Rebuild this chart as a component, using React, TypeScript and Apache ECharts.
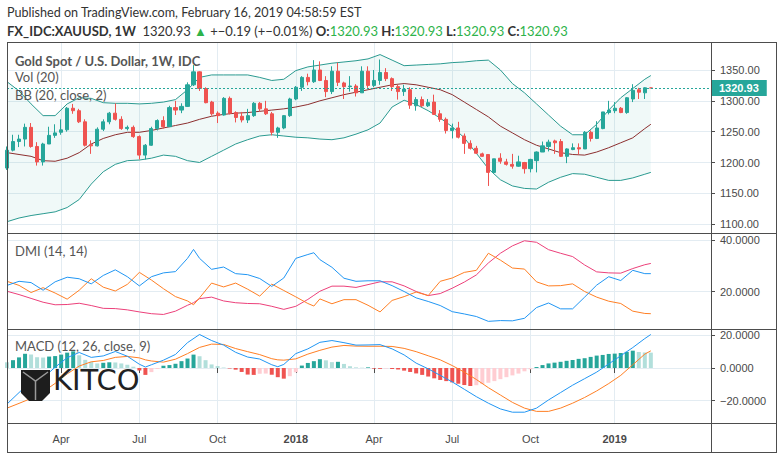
import React, { useEffect, useRef } from 'react';
import * as echarts from 'echarts';

// ---------- categories: weekly bars ----------
const firstWeekUTC = [2017, 0, 30];
const weekCount = 118;
const weeks: string[] = Array.from({ length: weekCount }, (_, i) =>
  new Date(Date.UTC(firstWeekUTC[0], firstWeekUTC[1], firstWeekUTC[2] + 7 * i)).toISOString().slice(0, 10)
);
const tickDates = ['2017-04-03', '2017-07-03', '2017-10-02', '2018-01-01', '2018-04-02', '2018-07-02', '2018-10-01', '2019-01-07'];
const tickTexts = ['Apr', 'Jul', 'Oct', '2018', 'Apr', 'Jul', 'Oct', '2019'];

// ---------- price (weekly OHLC) ----------
const opens = [1191,1220,1234,1238,1257,1226,1201,1230,1244,1249,1253,1288,1284,1266,1229,1227,1254,1266,1280,1270,1255,1257,1242,1212,1228,1255,1268,1258,1289,1285,1291,1326,1347,1320,1298,1280,1277,1304,1281,1275,1269,1276,1296,1287,1279,1249,1256,1276,1303,1322,1338,1331,1350,1333,1315,1348,1329,1323,1324,1313,1348,1325,1333,1346,1336,1323,1315,1318,1292,1302,1292,1298,1279,1270,1252,1256,1243,1231,1223,1214,1213,1184,1207,1201,1197,1194,1200,1190,1203,1217,1226,1235,1234,1210,1221,1224,1222,1249,1239,1255,1281,1284,1288,1281,1303,1318,1313,1320.93];
const closes = [1220,1234,1238,1257,1226,1201,1230,1244,1248,1253,1288,1284,1266,1228,1227,1254,1266,1280,1270,1255,1257,1242,1212,1228,1255,1268,1258,1289,1285,1291,1326,1347,1320,1297,1279,1276,1304,1280,1273,1269,1276,1296,1287,1279,1249,1256,1276,1303,1322,1338,1331,1350,1333,1315,1348,1330,1323,1324,1313,1348,1325,1333,1346,1336,1323,1315,1319,1293,1302,1292,1297,1278,1270,1252,1256,1241,1231,1223,1215,1210,1184,1206,1202,1197,1194,1201,1190,1205,1217,1227,1233,1232,1210,1222,1224,1222,1249,1239,1256,1282,1285,1288,1281,1305,1317,1314,1321.12,1320.93];
const lows = [1188,1218,1225,1226,1224,1195,1195,1230,1240,1245,1250,1279,1264,1226,1214,1226,1251,1262,1268,1253,1252,1240,1205,1205,1227,1252,1255,1258,1277,1280,1290,1324,1316,1296,1276,1264,1276,1278,1265,1265,1264,1274,1283,1277,1244,1240,1254,1274,1301,1316,1325,1329,1332,1306,1311,1324,1303,1315,1307,1313,1321,1322,1326,1332,1316,1302,1308,1287,1284,1290,1290,1277,1266,1247,1239,1239,1214,1221,1214,1209,1162,1183,1198,1195,1190,1193,1182,1184,1184,1217,1218,1214,1209,1199,1220,1213,1222,1234,1238,1254,1278,1280,1280,1279,1298,1303,1303,1320.93];
const highs = [1226,1245,1245,1263,1264,1233,1232,1258,1262,1270,1290,1295,1287,1270,1236,1257,1270,1282,1296,1275,1260,1260,1244,1230,1258,1270,1275,1292,1300,1296,1330,1358,1348,1322,1300,1283,1306,1307,1283,1282,1287,1298,1298,1300,1282,1258,1277,1305,1324,1340,1344,1366,1364,1340,1356,1362,1331,1340,1327,1356,1356,1350,1367,1353,1338,1326,1326,1322,1306,1307,1303,1310,1285,1273,1263,1266,1247,1236,1227,1216,1213,1206,1215,1206,1214,1211,1201,1206,1218,1234,1237,1237,1238,1223,1231,1231,1251,1252,1267,1282,1300,1298,1290,1306,1327,1321,1322,1320.93];
const lastPrice = 1320.93;

// ---------- Bollinger Bands (20, close, 2), read every other week ----------
const bbCats = [0,2,4,6,8,10,12,14,16,18,20,22,24,26,28,30,32,34,36,38,40,42,44,46,48,50,52,54,56,58,60,62,64,66,68,70,72,74,76,78,80,82,84,86,88,90,92,94,96,98,100,102,104,106,107];
const bbUpper = [1331,1316,1295,1276,1276,1295,1305,1304,1297,1296,1296,1295,1296,1298,1302,1318,1338,1342,1342,1342,1342,1338,1333,1335,1349,1355,1358,1361,1363,1365,1368,1375,1366,1357,1358,1359,1360,1362,1363,1365,1366,1350,1328,1313,1295,1277,1259,1245,1245,1262,1285,1305,1320,1335,1341];
const bbBasis = [1216,1213,1210,1203,1202,1207,1216,1230,1239,1245,1249,1249,1252,1256,1260,1264,1270,1275,1278,1280,1281,1283,1285,1287,1290,1294,1300,1305,1310,1314,1318,1322,1326,1328,1326,1322,1318,1310,1298,1286,1274,1259,1248,1237,1228,1222,1216,1213,1212,1217,1224,1232,1240,1255,1262];
const bbLower = [1104,1110,1114,1117,1120,1127,1140,1165,1185,1197,1203,1204,1207,1212,1210,1203,1200,1210,1220,1230,1237,1243,1245,1243,1241,1240,1238,1237,1240,1246,1253,1264,1290,1301,1294,1284,1272,1258,1240,1215,1190,1172,1162,1158,1157,1168,1176,1182,1181,1176,1171,1171,1175,1181,1184];

// ---------- DMI (14, 14) ----------
const dmiCats = [0,2,4,6,8,10,12,14,16,18,20,22,24,26,28,30,31,32,34,36,38,40,42,44,46,48,50,51,52,54,56,58,60,62,64,66,68,70,72,74,76,78,80,82,84,86,88,90,92,94,96,98,100,102,104,106,107];
const diPlus = [22.4,24,23.5,20.5,23.8,25.6,25,23,26.3,28.5,25.8,22.2,25.8,27.3,27.8,33,36.5,33,28.7,29.6,27,26.6,25.1,22,25.3,33,34.5,35.2,32.5,29.5,25.2,24,24.2,24.2,22.3,20,17.5,16.1,14.5,12.1,11.2,10.2,8.3,8.6,8.5,9.5,13.7,15.5,13.2,13.2,17.8,22.5,25.8,24.3,28.3,27,27];
const diMinus = [24,22.4,19.6,21.5,19.4,17,20.5,25,21.7,20.2,22.8,27.5,24.5,21.1,18,16.3,14.8,17.5,23.3,21.8,23.3,20.9,18.2,22.9,20.4,17.9,15.3,14.3,17.1,15.2,16.8,16.8,14.6,12,16.5,18,19.8,18.4,24,25.3,27.5,28.3,35,32.3,29.2,28.8,23.8,22.2,22.3,23,20,17.8,16.2,15.3,12.3,11.4,11.3];
const adx = [20.1,18.8,17.3,15.8,14.8,14.9,15.4,14.5,13.4,13.3,12.8,12,11.3,11,12.3,14.6,15.6,17.2,17.8,16.3,15.6,15.3,15.2,14.2,13,14.2,16.9,18.5,20.1,22.1,22.1,21.6,22.7,23.8,23.8,22.2,20,18.4,19.2,21.3,23.7,26.5,31.2,35,37.9,39.9,39.3,36.4,35,33.7,30.4,27.7,27.3,27.2,29,30.5,31];

// ---------- MACD (12, 26, close, 9) ----------
const macdCats = [0,2,4,6,8,10,12,14,16,18,20,22,23,24,26,28,30,32,34,36,38,40,42,44,45,46,48,50,52,54,56,58,60,62,64,66,68,70,72,74,76,78,80,82,84,86,88,90,92,94,96,98,100,102,104,106,107];
const macdLine = [-22,-15,-8,-6,0.5,6.3,9.5,6.5,7.4,10.1,7.2,2.3,0.6,2,4.8,8.3,15.5,20.5,16.8,14,9.6,6.7,5.5,2,0.8,2.2,8.8,11.7,15.7,16.8,15.5,14,14.1,14.3,11.7,8,3,-0.5,-4.5,-8.5,-13,-17.5,-21.5,-25,-27,-27,-24.5,-19.5,-15,-10.5,-6.5,-2.5,2.5,7.5,12.5,18,20.5];
const signalLine = [-24.5,-21.6,-18.6,-14.5,-9.4,-3.6,1.2,3.8,4.6,6.5,7.1,6.2,5,4.3,3.6,5.4,8.8,12.6,14.6,14.4,11.9,10,8.2,5.7,5,4.8,5.6,8.5,10.8,12.8,13.8,13.4,13.3,13.3,13.2,12,10,7.5,5,1.5,-2.5,-7,-12,-16.5,-21,-24.5,-26.5,-26.5,-24.5,-21.5,-18,-14,-9.5,-4.5,2,8.5,10.5];
const macdHist = [3.5,4.8,6.5,8.7,8.2,6.6,6.4,7.0,7.3,8.2,9.4,10.2,7.8,5.0,3.8,2.8,3.2,3.5,3.4,2.8,2.0,0.8,-1.5,-4.2,-2.5,-0.6,1.4,1.8,2.6,4.2,5.8,8.2,7.2,4.8,2.2,1.2,0.3,-0.3,-1.0,-2.4,-4.0,-4.2,-3.5,-3.4,-4.1,-5.6,-6.5,-5.0,-2.6,1.5,3.1,4.2,5.4,4.7,3.6,3.8,2.5,1.1,0.4,0.2,0.4,-0.4,-0.5,-0.3,-0.6,-0.9,-1.6,-2.4,-3.3,-4.2,-5.2,-6.3,-7.3,-8.0,-8.8,-9.6,-10.4,-11.0,-10.5,-9.8,-9.0,-8.0,-6.8,-5.6,-4.5,-3.4,-2.0,-0.8,0.6,1.8,2.8,3.3,3.8,4.4,4.9,5.6,6.0,6.8,7.6,8.0,8.6,8.8,9.2,9.9,10.6,9.8,9.5,9.4];

// ---------- styling ----------
const UP = '#26a69a';
const DOWN = '#ef5350';
const GRID = '#e3ecf2';
const FRAME = '#4d4d4d';
const AXIS_TXT = '#4a4a4a';
const axisFont = '"Liberation Sans", Arial, sans-serif';
const uiFont = 'Lato, "Noto Sans", sans-serif';
const GREEN = '#2eb34a';

const isTick = (_i: number, v: any) => tickDates.indexOf(String(v)) >= 0;
const tickLabel = (v: any) => {
  const k = tickDates.indexOf(String(v));
  if (k < 0) return '';
  const t = tickTexts[k];
  return /^\d{4}$/.test(t) ? `{b|${t}}` : t;
};
const fixedFmt = (step: number, dec: number) => (v: number) => {
  if (Math.abs(v / step - Math.round(v / step)) > 1e-6) return '';
  const s = Math.abs(v).toFixed(dec);
  return v < 0 ? '\u2212' + s : s;
};

function histColor(i: number) {
  const v = macdHist[i];
  const p = i > 0 ? macdHist[i - 1] : v;
  if (v >= 0) return v > p ? '#26a69a' : '#b2dfdb';
  return v < p ? '#ef5350' : '#ffcdd2';
}

function buildOption(): any {
  const grids = [
    { left: 7, right: 71, top: 42, height: 191 },
    { left: 7, right: 71, top: 233, height: 96 },
    { left: 7, right: 71, top: 329, height: 94 },
  ];
  const xAxes = [0, 1, 2].map((g) => ({
    type: 'category',
    gridIndex: g,
    data: weeks,
    boundaryGap: false,
    axisLine: { show: false },
    axisTick: { show: g === 2, interval: isTick, length: 5, lineStyle: { color: FRAME } },
    axisLabel: {
      show: g === 2,
      interval: isTick,
      formatter: tickLabel,
      margin: 10,
      color: AXIS_TXT,
      fontSize: 11,
      fontFamily: axisFont,
      rich: { b: { fontWeight: 'bold', fontSize: 11, color: AXIS_TXT, fontFamily: axisFont } },
    },
    splitLine: { show: true, interval: isTick, lineStyle: { color: GRID, width: 1 } },
  }));
  const yAx = (g: number, min: number, max: number, step: number, dec: number) => ({
    type: 'value',
    gridIndex: g,
    position: 'right',
    min,
    max,
    minInterval: step,
    maxInterval: step,
    axisLine: { show: false },
    axisTick: { show: true, length: 4, lineStyle: { color: FRAME } },
    axisLabel: { margin: 9, color: AXIS_TXT, fontSize: 11, fontFamily: axisFont, formatter: fixedFmt(step, dec) },
    splitLine: { show: true, lineStyle: { color: GRID, width: 1 } },
  });
  const yAxes = [
    yAx(0, 1085.7, 1395.4, 50, 2),
    yAx(1, 5.3, 42.94, 20, 4),
    yAx(2, -33.6, 23.85, 20, 4),
  ];
  const line = (cats: number[], vals: number[], color: string, gi: number, z = 3) => ({
    type: 'line',
    xAxisIndex: gi,
    yAxisIndex: gi,
    data: cats.map((c, k) => [c, vals[k]]),
    showSymbol: false,
    symbol: 'none',
    lineStyle: { color, width: 1 },
    itemStyle: { color },
    silent: true,
    z,
  });

  const series: any[] = [
    {
      type: 'custom',
      xAxisIndex: 0,
      yAxisIndex: 0,
      silent: true,
      z: 1,
      data: [0],
      renderItem: (_p: any, api: any) => {
        const pts: number[][] = [];
        bbCats.forEach((c, k) => pts.push(api.coord([c, bbUpper[k]])));
        for (let k = bbCats.length - 1; k >= 0; k--) pts.push(api.coord([bbCats[k], bbLower[k]]));
        return { type: 'polygon', shape: { points: pts }, style: { fill: 'rgba(38,166,154,0.07)', stroke: 'none' } };
      },
    },
    line(bbCats, bbUpper, '#2a9a90', 0),
    line(bbCats, bbLower, '#2a9a90', 0),
    line(bbCats, bbBasis, '#8c2f2f', 0),
    {
      type: 'candlestick',
      xAxisIndex: 0,
      yAxisIndex: 0,
      barWidth: 3.6,
      z: 4,
      data: opens.map((o, i) => [o, closes[i], lows[i], highs[i]]),
      itemStyle: { color: UP, color0: DOWN, borderColor: UP, borderColor0: DOWN, borderWidth: 1 },
      markLine: {
        silent: true,
        symbol: ['none', 'none'],
        lineStyle: { color: UP, type: [2, 2], width: 1 },
        label: {
          show: true,
          position: 'end',
          distance: 1,
          formatter: lastPrice.toFixed(2),
          backgroundColor: UP,
          color: '#ffffff',
          fontWeight: 'bold',
          fontSize: 11,
          fontFamily: axisFont,
          padding: [3, 8, 2, 7],
        },
        data: [{ yAxis: lastPrice }],
      },
    },
    line(dmiCats, adx, '#ec407a', 1),
    line(dmiCats, diMinus, '#ff7f24', 1),
    line(dmiCats, diPlus, '#2196f3', 1),
    {
      type: 'bar',
      xAxisIndex: 2,
      yAxisIndex: 2,
      barWidth: 4,
      silent: true,
      z: 2,
      data: macdHist.map((v, i) => ({ value: v, itemStyle: { color: histColor(i) } })),
    },
    line(macdCats, signalLine, '#ff7f24', 2),
    line(macdCats, macdLine, '#2196f3', 2),
  ];

  const T = (text: string, x: number, y: number, size: number, weight: string | number, fill: string) => ({
    type: 'text',
    x,
    y,
    z: 100,
    silent: true,
    style: { text, fill, fontSize: size, fontWeight: weight, fontFamily: uiFont, textVerticalAlign: 'middle' },
  });
  const L = (x1: number, y1: number, x2: number, y2: number) => ({
    type: 'line',
    z: 100,
    silent: true,
    shape: { x1, y1, x2, y2 },
    style: { stroke: FRAME, lineWidth: 1 },
  });

  const graphic: any[] = [
    T('Published on TradingView.com, February 16, 2019 04:58:59 EST', 7, 12.5, 12.6, 'normal', '#333'),
    {
      type: 'text',
      x: 7,
      y: 30.5,
      z: 100,
      silent: true,
      style: {
        text:
          '{b|FX_IDC:XAUUSD, 1W}{n|  1320.93 }{g|\u25B2}{n| +\u22120.19 (+\u22120.01%) }{b|O:}{g|1320.93}{b| H:}{g|1320.93}{b| L:}{g|1320.93}{b| C:}{g|1320.93}',
        textVerticalAlign: 'middle',
        fontFamily: uiFont,
        fontSize: 13,
        rich: {
          b: { fontWeight: 'bold', fontSize: 13, fontFamily: uiFont, fill: '#333', color: '#333' },
          n: { fontSize: 13, fontFamily: uiFont, fill: '#333', color: '#333' },
          g: { fontSize: 13, fontFamily: uiFont, fill: GREEN, color: GREEN },
        },
      },
    },
    T('Gold Spot / U.S. Dollar, 1W, IDC', 15, 60.5, 13, 'bold', '#555'),
    T('Vol (20)', 15, 77, 13, 'normal', '#555'),
    T('BB (20, close, 2)', 15, 95, 13, 'normal', '#555'),
    T('DMI (14, 14)', 15, 251, 13, 'normal', '#555'),
    T('MACD (12, 26, close, 9)', 15, 346, 13, 'normal', '#555'),
    // frame
    L(7, 42.5, 776, 42.5),
    L(7, 233.5, 776, 233.5),
    L(7, 329.5, 776, 329.5),
    L(7, 423.5, 776, 423.5),
    L(7, 452.5, 776, 452.5),
    L(7.5, 42, 7.5, 453),
    L(711.5, 42, 711.5, 453),
    L(776.5, 42, 776.5, 453),
    // KITCO logo
    {
      type: 'polygon',
      z: 110,
      silent: true,
      shape: { points: [[21, 370], [50, 370], [50, 393], [42, 401], [29, 401], [21, 393]] },
      style: { fill: '#1d1d1d' },
    },
    {
      type: 'polyline',
      z: 111,
      silent: true,
      shape: { points: [[23, 372], [35.5, 381], [48, 372]] },
      style: { stroke: '#9a9a9a', lineWidth: 1.5, fill: 'none' },
    },
    {
      type: 'line',
      z: 111,
      silent: true,
      shape: { x1: 35.5, y1: 381, x2: 35.5, y2: 400 },
      style: { stroke: '#9a9a9a', lineWidth: 1.5 },
    },
    {
      type: 'text',
      x: 53,
      y: 380,
      z: 110,
      silent: true,
      style: { text: 'KITCO', fill: '#222222', fontSize: 29, fontFamily: '"DejaVu Sans", sans-serif', textVerticalAlign: 'middle' },
    },
  ];

  return {
    animation: false,
    backgroundColor: '#ffffff',
    grid: grids,
    xAxis: xAxes,
    yAxis: yAxes,
    series,
    graphic,
  };
}

export default function App() {
  const ref = useRef<HTMLDivElement>(null);
  useEffect(() => {
    if (!ref.current) return;
    const chart = echarts.init(ref.current, null, { renderer: 'svg' });
    chart.setOption(buildOption());
    return () => chart.dispose();
  }, []);
  return (
    <div
      ref={ref}
      style={{ position: 'fixed', left: 0, top: 0, width: 782, height: 457, background: '#fff' }}
    />
  );
}
